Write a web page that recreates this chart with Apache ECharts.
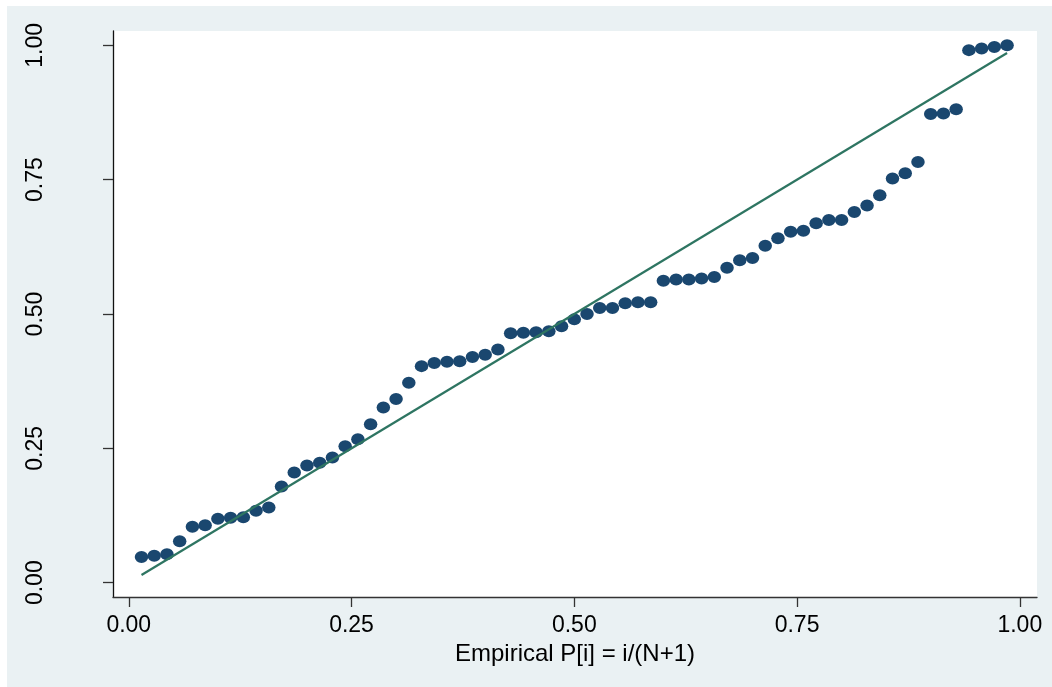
<!DOCTYPE html>
<html>
<head>
<meta charset="utf-8">
<script src="https://cdn.jsdelivr.net/npm/echarts@6/dist/echarts.min.js"></script>
<style>
  html, body { margin: 0; padding: 0; background: #fff; }
  #bg { position: absolute; left: 7px; top: 6px; right: 0; bottom: 0; background: #eaf1f3; }
  #chart { position: absolute; left: 0; top: 0; width: 1052px; height: 687px; }
</style>
</head>
<body>
<div id="bg"></div>
<div id="chart"></div>
<script>
// normal probabilities, sorted
const normProb = [
  0.048, 0.050, 0.053, 0.077, 0.104, 0.107, 0.119, 0.121, 0.122, 0.134,
  0.140, 0.179, 0.205, 0.218, 0.223, 0.233, 0.254, 0.267, 0.295, 0.326,
  0.342, 0.372, 0.403, 0.409, 0.411, 0.412, 0.420, 0.424, 0.434, 0.464,
  0.465, 0.466, 0.468, 0.477, 0.490, 0.500, 0.511, 0.511, 0.520, 0.522,
  0.522, 0.562, 0.564, 0.564, 0.566, 0.569, 0.586, 0.600, 0.604, 0.627,
  0.641, 0.653, 0.655, 0.669, 0.675, 0.675, 0.690, 0.702, 0.721, 0.752,
  0.762, 0.783, 0.872, 0.873, 0.881, 0.991, 0.994, 0.997, 1.000
];
const tickVals = [0, 0.25, 0.5, 0.75, 1];
const xTitle = 'Empirical P[i] = i/(N+1)';

// empirical P[i] = i/(N+1)
const N = normProb.length;
const points = normProb.map((v, i) => [(i + 1) / (N + 1), v]);
const first = points[0][0], last = points[N - 1][0];
const refLine = [[first, first], [last, last]];

const font = 'Liberation Sans, Arial, sans-serif';
const chart = echarts.init(document.getElementById('chart'));
chart.setOption({
  backgroundColor: 'transparent',
  animation: false,
  grid: {
    left: 113, top: 31, right: 15, bottom: 90,
    show: true, backgroundColor: '#fff', borderWidth: 0
  },
  xAxis: {
    type: 'value',
    min: -0.0177, max: 1.0193,
    name: xTitle,
    nameLocation: 'middle',
    nameGap: 41,
    nameTextStyle: { color: '#000', fontSize: 24, fontFamily: font },
    axisLine: { show: true, onZero: false, lineStyle: { color: '#333', width: 1.3 } },
    axisTick: { show: true, length: 10, customValues: tickVals, lineStyle: { color: '#333', width: 1.3 } },
    axisLabel: {
      customValues: tickVals, margin: 17, color: '#000', fontSize: 23, fontFamily: font,
      formatter: v => v.toFixed(2)
    },
    splitLine: { show: false }
  },
  yAxis: {
    type: 'value',
    min: -0.0266, max: 1.0266,
    axisLine: { show: true, onZero: false, lineStyle: { color: '#111', width: 1.3 } },
    axisTick: { show: true, length: 10, customValues: tickVals, lineStyle: { color: '#333', width: 1.3 } },
    axisLabel: {
      customValues: tickVals, rotate: 90, margin: 66, color: '#000', fontSize: 23, fontFamily: font,
      formatter: v => v.toFixed(2)
    },
    splitLine: { show: false }
  },
  series: [
    {
      type: 'scatter',
      data: points,
      symbol: 'circle',
      symbolSize: [13.5, 12],
      itemStyle: { color: '#1a476f', opacity: 1 },
      z: 2
    },
    {
      type: 'line',
      data: refLine,
      symbol: 'none',
      lineStyle: { color: '#2e7562', width: 2.2 },
      z: 3
    }
  ]
});
</script>
</body>
</html>
